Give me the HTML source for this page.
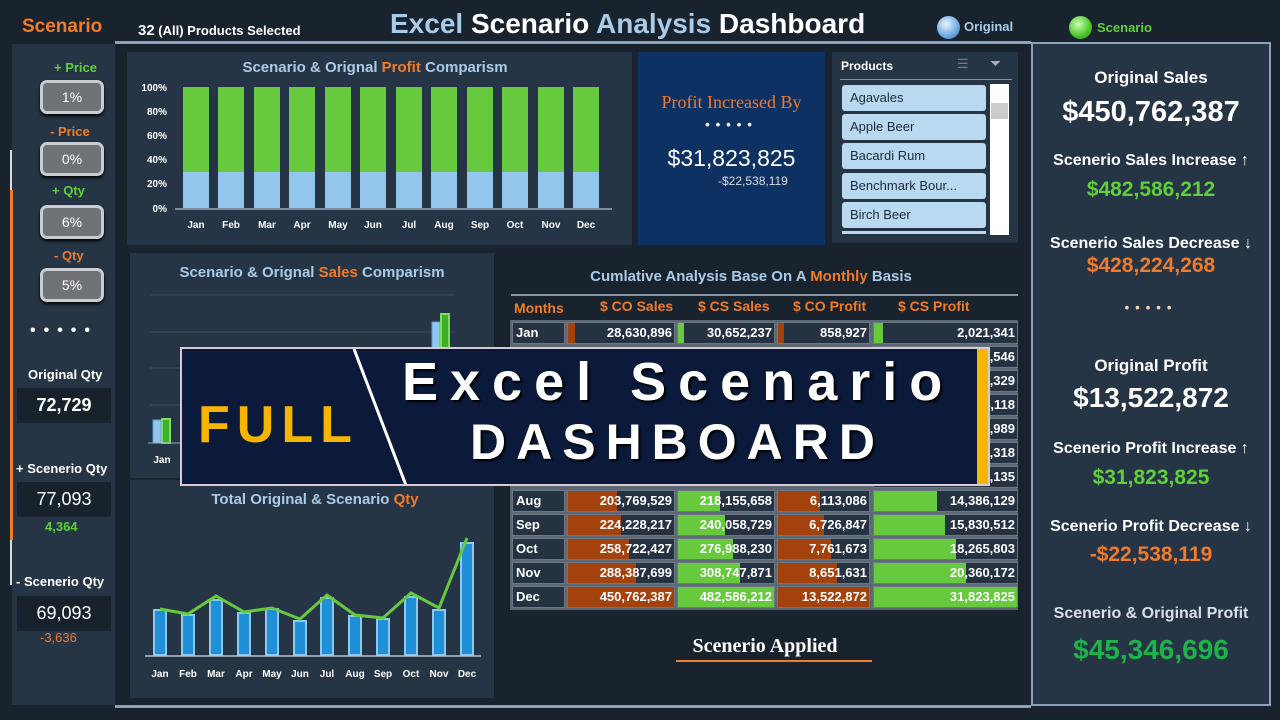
<!DOCTYPE html>
<html><head><meta charset="utf-8">
<style>
*{margin:0;padding:0;box-sizing:border-box}
body{width:1280px;height:720px;background:#18232e;font-family:"Liberation Sans",sans-serif;position:relative;overflow:hidden;color:#fff}
.a{position:absolute}
.b{font-weight:bold}
.c{text-align:center}
.g{color:#5fcf3a}.o{color:#f07b2a}.lb{color:#a9cbe8}
.pbox{position:absolute;left:40px;width:64px;height:34px;border:3px solid #c9ccd0;border-radius:7px;background:#6f7276;color:#fff;font-size:14px;text-align:center;line-height:28px;box-shadow:0 2px 3px #000}
.qbox{position:absolute;left:17px;width:94px;height:35px;background:#18222d;text-align:center;line-height:35px;font-size:18px}
.lbl{position:absolute;font-size:13px;font-weight:bold}
.cell{position:absolute;height:22px;border:1px solid #6b7785;font-size:13px;font-weight:bold;line-height:20px;text-align:right;padding-right:2px;overflow:hidden}
.cell i{position:absolute;left:0;top:0;bottom:0}
.cell span{position:relative}
.m{text-align:left;padding-left:3px;background:#243242}
.rv{position:absolute;left:1032px;width:238px;text-align:center;font-weight:bold}
.prod{position:absolute;left:842px;width:144px;height:26px;background:#b9d9f0;border-radius:3px;color:#1a2a3a;font-size:13px;line-height:26px;padding-left:8px}
</style></head><body>

<!-- header -->
<div class="a b o" style="left:22px;top:16px;font-size:19px">Scenario</div>
<div class="a" style="left:138px;top:22px;font-size:13px;font-weight:bold"><span style="font-size:15px">32</span> (All) Products Selected</div>
<div class="a b" style="left:390px;top:8px;font-size:28px;letter-spacing:0px"><span class="lb">Excel</span> Scenario <span class="lb">Analysis</span> Dashboard</div>
<div class="a" style="left:937px;top:16px;width:23px;height:23px;border-radius:50%;background:radial-gradient(circle at 40% 35%,#e8f4ff,#6aa8de 60%,#3a78b8)"></div>
<div class="a b lb" style="left:964px;top:19px;font-size:13px">Original</div>
<div class="a" style="left:1069px;top:16px;width:23px;height:23px;border-radius:50%;background:radial-gradient(circle at 40% 35%,#c8ffb0,#4cc42c 60%,#2a8a18)"></div>
<div class="a b g" style="left:1097px;top:20px;font-size:13px">Scenario</div>
<div class="a" style="left:115px;top:41px;width:916px;height:3px;background:#8aa2bb"></div>
<div class="a" style="left:115px;top:705px;width:916px;height:3px;background:#8aa2bb"></div>

<!-- left panel -->
<div class="a" style="left:12px;top:44px;width:103px;height:661px;background:#263545"></div>
<div class="a" style="left:10px;top:150px;width:2px;height:40px;background:#ddd"></div>
<div class="a" style="left:10px;top:190px;width:3px;height:350px;background:#f07b2a"></div>
<div class="a" style="left:10px;top:540px;width:2px;height:45px;background:#ddd"></div>
<div class="lbl g" style="left:54px;top:60px">+ Price</div>
<div class="pbox" style="top:80px">1%</div>
<div class="lbl o" style="left:50px;top:124px">- Price</div>
<div class="pbox" style="top:142px">0%</div>
<div class="lbl g" style="left:52px;top:183px">+ Qty</div>
<div class="pbox" style="top:205px">6%</div>
<div class="lbl o" style="left:54px;top:248px">- Qty</div>
<div class="pbox" style="top:268px">5%</div>
<div class="a b" style="left:30px;top:322px;font-size:16px;letter-spacing:8px">•••••</div>
<div class="lbl" style="left:28px;top:367px">Original Qty</div>
<div class="qbox b" style="top:388px">72,729</div>
<div class="lbl" style="left:16px;top:461px">+ Scenerio Qty</div>
<div class="qbox" style="top:482px">77,093</div>
<div class="lbl g" style="left:45px;top:519px">4,364</div>
<div class="lbl" style="left:16px;top:574px">- Scenerio Qty</div>
<div class="qbox" style="top:596px">69,093</div>
<div class="a o" style="left:40px;top:630px;font-size:13px">-3,636</div>

<!-- profit chart -->
<div class="a" style="left:127px;top:52px;width:505px;height:193px;background:#263545"></div>
<svg class="a" style="left:0;top:0" width="1280" height="720">
<text x="375" y="72" text-anchor="middle" font-size="15" font-weight="bold" fill="#a9cbe8" font-family="Liberation Sans">Scenario &amp; Orignal <tspan fill="#f07b2a">Profit</tspan> Comparism</text>
<g font-size="10" font-weight="bold" fill="#fff" font-family="Liberation Sans" text-anchor="end">
<text x="167" y="91">100%</text><text x="167" y="115">80%</text><text x="167" y="139">60%</text><text x="167" y="163">40%</text><text x="167" y="187">20%</text><text x="167" y="212">0%</text></g>
<g>
<rect x="183" y="87" width="26" height="85" fill="#66c93e"/><rect x="183" y="172" width="26" height="36" fill="#93c6ec"/>
<rect x="218" y="87" width="26" height="85" fill="#66c93e"/><rect x="218" y="172" width="26" height="36" fill="#93c6ec"/>
<rect x="254" y="87" width="26" height="85" fill="#66c93e"/><rect x="254" y="172" width="26" height="36" fill="#93c6ec"/>
<rect x="289" y="87" width="26" height="85" fill="#66c93e"/><rect x="289" y="172" width="26" height="36" fill="#93c6ec"/>
<rect x="325" y="87" width="26" height="85" fill="#66c93e"/><rect x="325" y="172" width="26" height="36" fill="#93c6ec"/>
<rect x="360" y="87" width="26" height="85" fill="#66c93e"/><rect x="360" y="172" width="26" height="36" fill="#93c6ec"/>
<rect x="396" y="87" width="26" height="85" fill="#66c93e"/><rect x="396" y="172" width="26" height="36" fill="#93c6ec"/>
<rect x="431" y="87" width="26" height="85" fill="#66c93e"/><rect x="431" y="172" width="26" height="36" fill="#93c6ec"/>
<rect x="467" y="87" width="26" height="85" fill="#66c93e"/><rect x="467" y="172" width="26" height="36" fill="#93c6ec"/>
<rect x="502" y="87" width="26" height="85" fill="#66c93e"/><rect x="502" y="172" width="26" height="36" fill="#93c6ec"/>
<rect x="538" y="87" width="26" height="85" fill="#66c93e"/><rect x="538" y="172" width="26" height="36" fill="#93c6ec"/>
<rect x="573" y="87" width="26" height="85" fill="#66c93e"/><rect x="573" y="172" width="26" height="36" fill="#93c6ec"/>
</g>
<line x1="175" y1="209" x2="612" y2="209" stroke="#9ab" stroke-width="1.5"/>
<g font-size="10" font-weight="bold" fill="#fff" font-family="Liberation Sans" text-anchor="middle">
<text x="196" y="228">Jan</text><text x="231" y="228">Feb</text><text x="267" y="228">Mar</text><text x="302" y="228">Apr</text><text x="338" y="228">May</text><text x="373" y="228">Jun</text><text x="409" y="228">Jul</text><text x="444" y="228">Aug</text><text x="480" y="228">Sep</text><text x="515" y="228">Oct</text><text x="551" y="228">Nov</text><text x="586" y="228">Dec</text></g>
</svg>

<!-- profit increased -->
<div class="a" style="left:638px;top:52px;width:187px;height:193px;background:#0d3163"></div>
<div class="a c" style="left:638px;top:92px;width:187px;font-family:'Liberation Serif',serif;font-size:18px;color:#f07b2a">Profit Increased By</div>
<div class="a c b" style="left:638px;top:117px;width:187px;font-size:13px;letter-spacing:6px">•••••</div>
<div class="a c" style="left:638px;top:145px;width:187px;font-size:23px">$31,823,825</div>
<div class="a" style="left:718px;top:174px;font-size:12px;color:#ddd">-$22,538,119</div>

<!-- products slicer -->
<div class="a" style="left:832px;top:52px;width:186px;height:191px;background:#263545"></div>
<div class="a b" style="left:841px;top:59px;font-size:12px">Products</div>
<div class="a" style="left:957px;top:56px;font-size:13px;color:#778">☰</div>
<div class="a" style="left:990px;top:55px;font-size:14px;color:#aab">⏷</div>
<div class="a" style="left:840px;top:79px;width:172px;height:1px;background:#5b9bd5"></div>
<div class="prod" style="top:85px">Agavales</div>
<div class="prod" style="top:114px">Apple Beer</div>
<div class="prod" style="top:143px">Bacardi Rum</div>
<div class="prod" style="top:173px">Benchmark Bour...</div>
<div class="prod" style="top:202px">Birch Beer</div>
<div class="a" style="left:842px;top:231px;width:144px;height:3px;background:#b9d9f0"></div>
<div class="a" style="left:990px;top:84px;width:19px;height:151px;background:#fff"></div>
<div class="a" style="left:991px;top:103px;width:17px;height:16px;background:#ccc"></div>

<!-- sales chart -->
<div class="a" style="left:130px;top:253px;width:364px;height:225px;background:#263545"></div>
<div class="a" style="left:130px;top:480px;width:364px;height:218px;background:#263545"></div>
<svg class="a" style="left:0;top:0" width="1280" height="720">
<text x="312" y="277" text-anchor="middle" font-size="15" font-weight="bold" fill="#a9cbe8" font-family="Liberation Sans">Scenario &amp; Orignal <tspan fill="#f07b2a">Sales</tspan> Comparism</text>
<g stroke="#3c4d60"><line x1="150" y1="295" x2="455" y2="295"/><line x1="150" y1="332" x2="455" y2="332"/><line x1="150" y1="368" x2="455" y2="368"/><line x1="150" y1="405" x2="455" y2="405"/></g>
<rect x="153" y="420" width="8" height="23" fill="#93c6ec" stroke="#5aa0dc"/><rect x="162" y="419" width="8" height="24" fill="#3cb02a" stroke="#7ee05a" stroke-width="2"/>
<rect x="432" y="322" width="8" height="121" fill="#93c6ec" stroke="#5aa0dc"/><rect x="441" y="314" width="8" height="129" fill="#3cb02a" stroke="#7ee05a" stroke-width="2"/>
<line x1="148" y1="443" x2="460" y2="443" stroke="#9ab"/>
<text x="162" y="463" text-anchor="middle" font-size="10" font-weight="bold" fill="#fff" font-family="Liberation Sans">Jan</text>

<text x="315" y="504" text-anchor="middle" font-size="15" font-weight="bold" fill="#a9cbe8" font-family="Liberation Sans">Total Original &amp; Scenario <tspan fill="#f07b2a">Qty</tspan></text>
<g fill="#1f8fd8" stroke="#8cc8f0" stroke-width="2">
<rect x="154" y="610" width="12" height="45"/><rect x="182" y="615" width="12" height="40"/><rect x="210" y="600" width="12" height="55"/><rect x="238" y="613" width="12" height="42"/><rect x="266" y="609" width="12" height="46"/><rect x="294" y="621" width="12" height="34"/><rect x="321" y="598" width="12" height="57"/><rect x="349" y="616" width="12" height="39"/><rect x="377" y="619" width="12" height="36"/><rect x="405" y="597" width="12" height="58"/><rect x="433" y="610" width="12" height="45"/><rect x="461" y="543" width="12" height="112"/></g>
<polyline points="160,609 188,614 216,596 244,612 272,608 300,619 327,595 355,615 383,618 411,593 439,608 467,538" fill="none" stroke="#66c93e" stroke-width="3"/>
<line x1="145" y1="656" x2="481" y2="656" stroke="#b8c4d0" stroke-width="1.5"/>
<g font-size="10" font-weight="bold" fill="#fff" font-family="Liberation Sans" text-anchor="middle">
<text x="160" y="677">Jan</text><text x="188" y="677">Feb</text><text x="216" y="677">Mar</text><text x="244" y="677">Apr</text><text x="272" y="677">May</text><text x="300" y="677">Jun</text><text x="327" y="677">Jul</text><text x="355" y="677">Aug</text><text x="383" y="677">Sep</text><text x="411" y="677">Oct</text><text x="439" y="677">Nov</text><text x="467" y="677">Dec</text></g>

<text x="751" y="281" text-anchor="middle" font-size="15" font-weight="bold" fill="#a9cbe8" font-family="Liberation Sans">Cumlative Analysis Base On A <tspan fill="#f07b2a">Monthly</tspan> Basis</text>
<line x1="511" y1="295" x2="1018" y2="295" stroke="#8a96a4" stroke-width="2"/>
<g font-size="14" font-weight="bold" fill="#f07b2a" font-family="Liberation Sans">
<text x="514" y="313">Months</text><text x="600" y="311">$ CO Sales</text><text x="698" y="311">$ CS Sales</text><text x="793" y="311">$ CO Profit</text><text x="898" y="311">$ CS Profit</text></g>
<text x="765" y="652" text-anchor="middle" font-size="20" font-weight="bold" fill="#fff" font-family="Liberation Serif">Scenerio Applied</text>
<line x1="676" y1="661" x2="872" y2="661" stroke="#f07b2a" stroke-width="2"/>
</svg>

<!-- table rows -->
<div class="a" style="left:510px;top:320px;width:508px;height:290px;background:#5d6875"></div>
<div class="cell m" style="left:512px;top:322px;width:53px">Jan</div>
<div class="cell" style="left:567px;top:322px;width:108px;background:#243242"><i style="width:7px;background:#a4420e"></i><span>28,630,896</span></div>
<div class="cell" style="left:677px;top:322px;width:98px;background:#243242"><i style="width:6px;background:#66c93e"></i><span>30,652,237</span></div>
<div class="cell" style="left:777px;top:322px;width:93px;background:#243242"><i style="width:6px;background:#a4420e"></i><span>858,927</span></div>
<div class="cell" style="left:873px;top:322px;width:145px;background:#243242"><i style="width:9px;background:#66c93e"></i><span>2,021,341</span></div>
<div class="cell" style="left:873px;top:346px;width:145px;background:#243242"><span>3,985,546</span></div>
<div class="cell" style="left:873px;top:370px;width:145px;background:#243242"><span>5,972,329</span></div>
<div class="cell" style="left:873px;top:394px;width:145px;background:#243242"><span>7,534,118</span></div>
<div class="cell" style="left:873px;top:418px;width:145px;background:#243242"><span>9,211,989</span></div>
<div class="cell" style="left:873px;top:442px;width:145px;background:#243242"><span>10,904,318</span></div>
<div class="cell" style="left:873px;top:466px;width:145px;background:#243242"><span>12,631,135</span></div>
<div class="cell m" style="left:512px;top:490px;width:53px">Aug</div>
<div class="cell" style="left:567px;top:490px;width:108px;background:#243242"><i style="width:49px;background:#a4420e"></i><span>203,769,529</span></div>
<div class="cell" style="left:677px;top:490px;width:98px;background:#243242"><i style="width:42px;background:#66c93e"></i><span>218,155,658</span></div>
<div class="cell" style="left:777px;top:490px;width:93px;background:#243242"><i style="width:42px;background:#a4420e"></i><span>6,113,086</span></div>
<div class="cell" style="left:873px;top:490px;width:145px;background:#243242"><i style="width:63px;background:#66c93e"></i><span>14,386,129</span></div>
<div class="cell m" style="left:512px;top:514px;width:53px">Sep</div>
<div class="cell" style="left:567px;top:514px;width:108px;background:#243242"><i style="width:53px;background:#a4420e"></i><span>224,228,217</span></div>
<div class="cell" style="left:677px;top:514px;width:98px;background:#243242"><i style="width:47px;background:#66c93e"></i><span>240,058,729</span></div>
<div class="cell" style="left:777px;top:514px;width:93px;background:#243242"><i style="width:46px;background:#a4420e"></i><span>6,726,847</span></div>
<div class="cell" style="left:873px;top:514px;width:145px;background:#243242"><i style="width:71px;background:#66c93e"></i><span>15,830,512</span></div>
<div class="cell m" style="left:512px;top:538px;width:53px">Oct</div>
<div class="cell" style="left:567px;top:538px;width:108px;background:#243242"><i style="width:61px;background:#a4420e"></i><span>258,722,427</span></div>
<div class="cell" style="left:677px;top:538px;width:98px;background:#243242"><i style="width:55px;background:#66c93e"></i><span>276,988,230</span></div>
<div class="cell" style="left:777px;top:538px;width:93px;background:#243242"><i style="width:53px;background:#a4420e"></i><span>7,761,673</span></div>
<div class="cell" style="left:873px;top:538px;width:145px;background:#243242"><i style="width:82px;background:#66c93e"></i><span>18,265,803</span></div>
<div class="cell m" style="left:512px;top:562px;width:53px">Nov</div>
<div class="cell" style="left:567px;top:562px;width:108px;background:#243242"><i style="width:68px;background:#a4420e"></i><span>288,387,699</span></div>
<div class="cell" style="left:677px;top:562px;width:98px;background:#243242"><i style="width:62px;background:#66c93e"></i><span>308,747,871</span></div>
<div class="cell" style="left:777px;top:562px;width:93px;background:#243242"><i style="width:59px;background:#a4420e"></i><span>8,651,631</span></div>
<div class="cell" style="left:873px;top:562px;width:145px;background:#243242"><i style="width:92px;background:#66c93e"></i><span>20,360,172</span></div>
<div class="cell m" style="left:512px;top:586px;width:53px">Dec</div>
<div class="cell" style="left:567px;top:586px;width:108px;background:#a4420e"><span>450,762,387</span></div>
<div class="cell" style="left:677px;top:586px;width:98px;background:#66c93e"><span>482,586,212</span></div>
<div class="cell" style="left:777px;top:586px;width:93px;background:#a4420e"><span>13,522,872</span></div>
<div class="cell" style="left:873px;top:586px;width:145px;background:#66c93e"><span>31,823,825</span></div>

<!-- banner -->
<div class="a" style="left:180px;top:347px;width:810px;height:139px;background:#0b1a3a;border:2px solid #d9c9d2;overflow:hidden">
<svg class="a" style="left:0;top:0" width="810" height="139"><line x1="172" y1="0" x2="225" y2="139" stroke="#fff" stroke-width="3"/></svg>
<div class="a b" style="left:16px;top:46px;font-size:52px;letter-spacing:7px;color:#f7b500">FULL</div>
<div class="a b" style="left:220px;top:2px;font-size:54px;letter-spacing:12px;color:#fff;text-shadow:2px 2px 2px #000">Excel Scenario</div>
<div class="a b" style="left:288px;top:64px;font-size:50px;letter-spacing:10px;color:#fff;text-shadow:2px 2px 2px #000">DASHBOARD</div>
<div class="a" style="left:795px;top:0;width:13px;height:139px;background:#f7b500"></div>
</div>

<!-- right panel -->
<div class="a" style="left:1031px;top:42px;width:240px;height:664px;background:#263545;border:2px solid #8aa2bb"></div>
<div class="rv" style="top:68px;font-size:17px">Original Sales</div>
<div class="rv" style="top:96px;font-size:29px">$450,762,387</div>
<div class="rv" style="top:152px;font-size:16px">Scenerio Sales Increase ↑</div>
<div class="rv g" style="top:178px;font-size:21px">$482,586,212</div>
<div class="rv" style="top:235px;font-size:16px">Scenerio Sales Decrease ↓</div>
<div class="rv o" style="top:254px;font-size:21px">$428,224,268</div>
<div class="rv" style="top:300px;font-size:13px;letter-spacing:6px;color:#f5d5b5">•••••</div>
<div class="rv" style="top:356px;font-size:17px">Original Profit</div>
<div class="rv" style="top:382px;font-size:28px">$13,522,872</div>
<div class="rv" style="top:440px;font-size:16px">Scenerio Profit Increase ↑</div>
<div class="rv g" style="top:466px;font-size:21px">$31,823,825</div>
<div class="rv" style="top:518px;font-size:16px">Scenerio Profit Decrease ↓</div>
<div class="rv o" style="top:543px;font-size:21px">-$22,538,119</div>
<div class="rv" style="top:605px;font-size:16px;color:#dde">Scenerio &amp; Original Profit</div>
<div class="rv" style="top:634px;font-size:28px;color:#1fb24a">$45,346,696</div>
</body></html>
